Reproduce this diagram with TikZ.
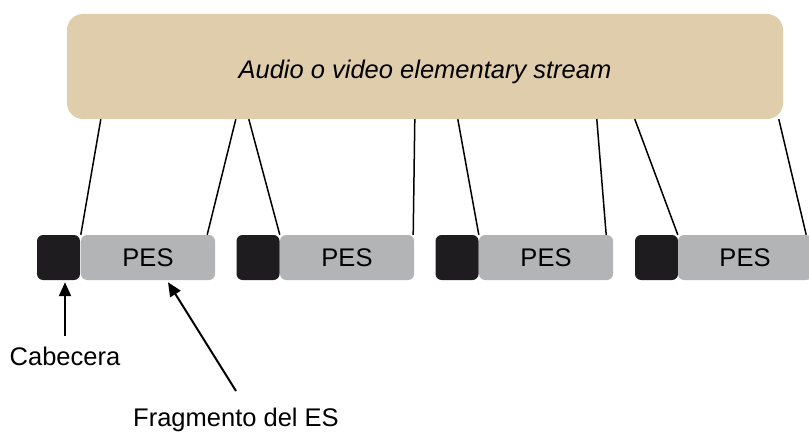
\documentclass[tikz,border=0pt]{standalone}
\usepackage{fontspec}
\setmainfont{Liberation Sans}
\usetikzlibrary{arrows.meta}
\definecolor{streamtan}{HTML}{E0CDAB}
\definecolor{pesgrey}{HTML}{B3B4B6}
\definecolor{hdrblack}{HTML}{1E1C1F}
\tikzset{
  stream/.style={fill=streamtan, draw=none, rounded corners=16pt, minimum width=716pt, minimum height=105pt, inner sep=0pt},
  hdr/.style={fill=hdrblack, draw=none, rounded corners=6pt, minimum width=43pt, minimum height=45pt, inner sep=0pt},
  pes/.style={fill=pesgrey, draw=none, rounded corners=6pt, minimum width=134pt, minimum height=45pt, inner sep=0pt, font=\fontsize{25.5}{30}\selectfont},
  link/.style={line width=1.5pt, black},
  pointer/.style={line width=2pt, -{Triangle[length=14pt,width=12pt]}},
  lbl/.style={font=\fontsize{25.5}{30}\selectfont, inner sep=0pt, anchor=base}
}
\begin{document}
\begin{tikzpicture}[x=1pt,y=-1pt]
\useasboundingbox (0,0) rectangle (809,433);
% elementary stream
\node[stream] (es) at (425,66.5) {};
\node[lbl, font=\fontsize{25.5}{30}\selectfont\itshape] (estxt) at (425,78.5) {Audio o video elementary stream};
% PES packets: header + payload
\node[hdr] (h1) at (58.5,257.5) {};
\node[pes] (p1) at (148,257.5) {PES};
\node[hdr] (h2) at (258,257.5) {};
\node[pes] (p2) at (347,257.5) {PES};
\node[hdr] (h3) at (457,257.5) {};
\node[pes] (p3) at (546,257.5) {PES};
\node[hdr] (h4) at (656.5,257.5) {};
\node[pes] (p4) at (745,257.5) {PES};
% lines from the stream to each packet
\draw[link] ([xshift=34pt]es.south west) -- (p1.north west);
\draw[link] ([xshift=169pt]es.south west) -- ([xshift=-8pt]p1.north east);
\draw[link] ([xshift=182pt]es.south west) -- (p2.north west);
\draw[link] ([xshift=348pt]es.south west) -- ([xshift=-1pt]p2.north east);
\draw[link] ([xshift=391pt]es.south west) -- (p3.north west);
\draw[link] ([xshift=530pt]es.south west) -- ([xshift=-7pt]p3.north east);
\draw[link] ([xshift=568pt]es.south west) -- (p4.north west);
\draw[link] ([xshift=712pt]es.south west) -- ([xshift=-6pt]p4.north east);
% labels with their pointers
\node[lbl] (cab) at (65,365) {Cabecera};
\node[lbl] (frag) at (236,426) {Fragmento del ES};
\coordinate (cabtail) at (65,336);
\coordinate (fragtail) at (236,391);
\draw[pointer] (cabtail) -- ([xshift=6.5pt,yshift=-2pt]h1.south);
\draw[pointer] (fragtail) -- ([xshift=20pt,yshift=-2pt]p1.south);
\end{tikzpicture}
\end{document}
